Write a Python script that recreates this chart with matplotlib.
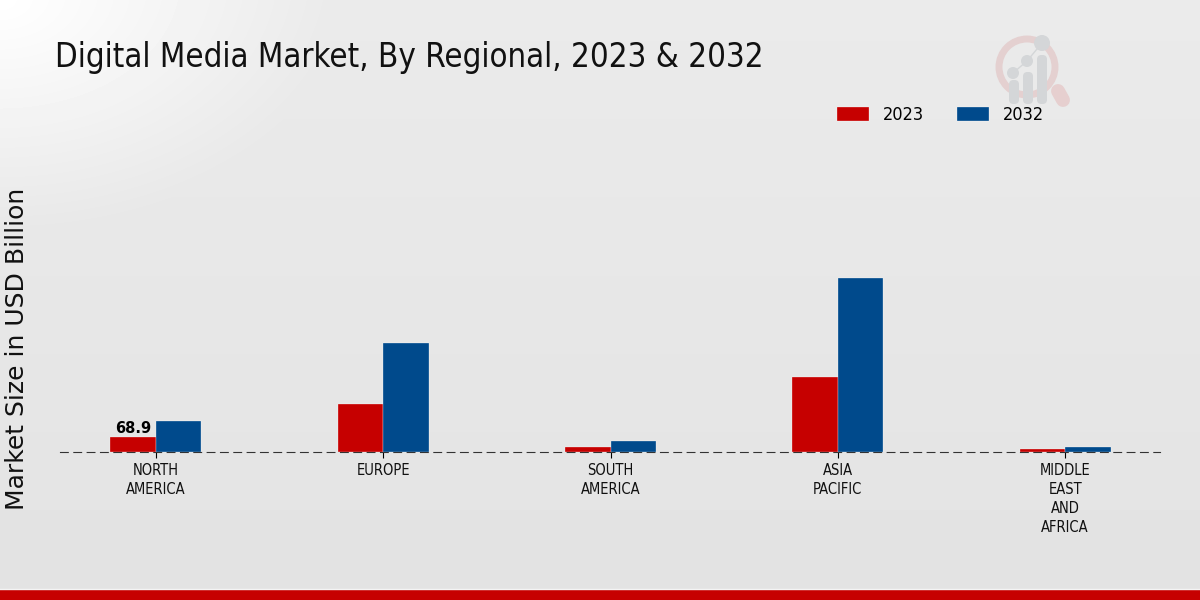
import numpy as np
import matplotlib.pyplot as plt
from matplotlib.patches import Circle, FancyBboxPatch, Rectangle

regions = ['NORTH\nAMERICA', 'EUROPE', 'SOUTH\nAMERICA', 'ASIA\nPACIFIC', 'MIDDLE\nEAST\nAND\nAFRICA']
values_2023 = [68.9, 220, 23, 345, 14]
values_2032 = [142, 500, 50, 800, 23]

RED = '#c60000'
BLUE = '#004a8c'
W, H = 1200, 600

fig = plt.figure(figsize=(12, 6), dpi=100)

# background gradient, light in the top left corner
bg = fig.add_axes([0, 0, 1, 1], zorder=0)
yy, xx = np.mgrid[0:H, 0:W]
d = np.clip(np.sqrt((xx / 330) ** 2 + (yy / 230) ** 2), 0, 1)
shade = 1 - 0.08 * d - 0.03 * (yy / H)
bg.imshow(shade, cmap='gray', vmin=0, vmax=1, extent=(0, W, H, 0), aspect='auto')
bg.set_xlim(0, W)
bg.set_ylim(H, 0)
bg.axis('off')

# bottom band
bg.add_patch(Rectangle((0, 589), W, 11, color=RED, lw=0))
bg.plot([0, W], [588.5, 588.5], color='#f4f4f4', lw=1)

# watermark logo
bg.plot([1058, 1063], [91, 100], color='#e6cfcf', lw=10, solid_capstyle='round')
bg.add_patch(Circle((1027, 67), 28, fill=False, ec='#e4d0d0', lw=5))
bg.plot([1013, 1027, 1042], [73, 61, 43], color='#d4d6d8', lw=1)
for bx, top, r in [(1014, 80, 6), (1028, 72, 6), (1042, 55, 8)]:
    bg.add_patch(FancyBboxPatch((bx - 5, top), 10, 104 - top, boxstyle='round,pad=0,rounding_size=4.5',
                                color='#d4d6d8', lw=0))
for cx, cy, r in [(1013, 73, 6), (1027, 61, 6), (1042, 43, 8)]:
    bg.add_patch(Circle((cx, cy), r, color='#d4d6d8', lw=0))

ax = fig.add_axes([60 / W, 1 - 452 / H, 1100 / W, 352 / H], zorder=1)
ax.patch.set_alpha(0)

x = np.arange(len(regions))
width = 0.2
ax.bar(x - width / 2, values_2023, width, color=RED, edgecolor='white', linewidth=0.2, label='2023')
ax.bar(x + width / 2, values_2032, width, color=BLUE, edgecolor='white', linewidth=0.2, label='2032')

ax.set_xlim(-0.422, 4.417)
ax.set_ylim(0, 352 / 0.2177)
ax.set_xticks(x)
ax.set_xticklabels(regions, fontsize=10.5, fontstretch='condensed', linespacing=1.33, color='#111111')
ax.set_yticks([])
ax.tick_params(axis='x', length=4, width=0.8, pad=4)
for side in ['top', 'left', 'right']:
    ax.spines[side].set_visible(False)
ax.spines['bottom'].set_linestyle((0, (7, 5)))
ax.spines['bottom'].set_color('#333333')
ax.spines['bottom'].set_linewidth(0.8)

ax.text(x[0] - width / 2, values_2023[0] + 4, '68.9', ha='center', va='bottom', fontsize=10.5, fontweight='bold',
        color='black')

fig.text(17 / W, 1 - 349 / H, 'Market Size in USD Billion', rotation=90, ha='center', va='center', fontsize=18,
         color='#111111')
fig.text(55 / W, 1 - 58 / H, 'Digital Media Market, By Regional, 2023 & 2032', ha='left', va='center', fontsize=23.7,
         fontstretch='condensed', color='#111111')

ax.legend(loc='center', bbox_to_anchor=(940.5 / W, 1 - 115 / H), bbox_transform=fig.transFigure, ncol=2, frameon=False,
          prop={'size': 13, 'stretch': 'condensed'}, handlelength=1.77, handleheight=0.78, columnspacing=1.88,
          handletextpad=0.72)

fig.savefig('out.png', dpi=100)
